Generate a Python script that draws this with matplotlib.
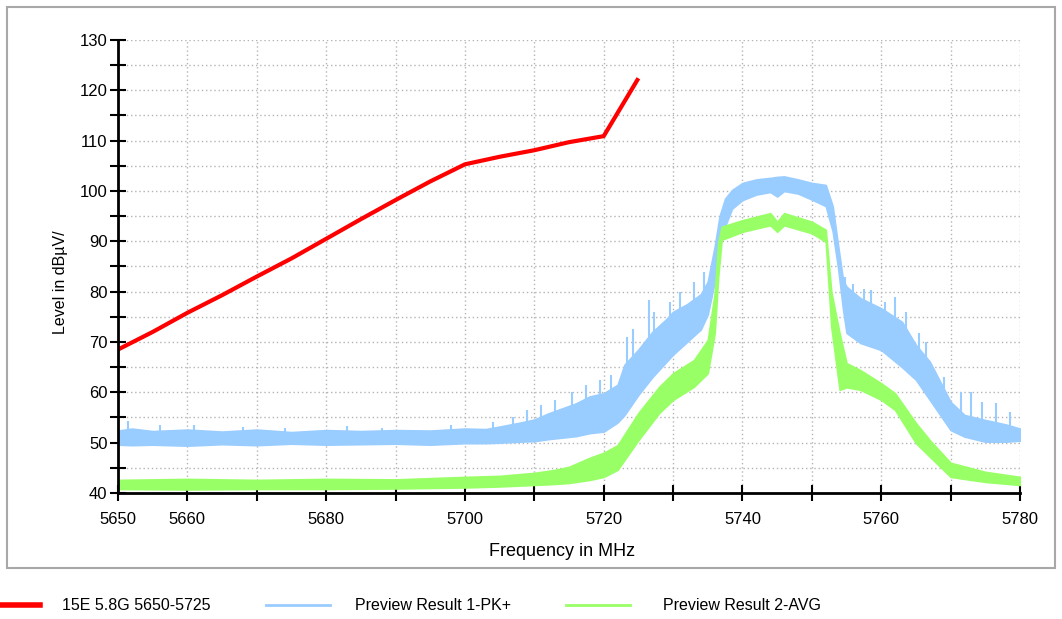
import numpy as np
import matplotlib
matplotlib.use("Agg")
from matplotlib import pyplot as plt
from matplotlib.lines import Line2D
from matplotlib.patches import Rectangle

plt.rcParams['font.family'] = ['Liberation Sans', 'DejaVu Sans']

# limit line (red)
limit_f = [5650, 5655, 5660, 5665, 5670, 5675, 5680, 5685, 5690, 5695, 5700,
           5705, 5710, 5715, 5720, 5725]
limit_db = [68.5, 72.0, 75.8, 79.3, 83.0, 86.6, 90.5, 94.4, 98.2, 101.9, 105.3,
            106.8, 108.1, 109.7, 110.9, 122.4]

# Preview Result 1-PK+ (noise band: lower / upper envelope)
pk_f = [5650, 5652, 5655, 5660, 5665, 5670, 5675, 5680, 5685, 5690, 5695, 5700,
        5703, 5705, 5708, 5710, 5712, 5714, 5716, 5718, 5720, 5722, 5723, 5724,
        5725, 5727, 5729, 5730, 5732, 5734, 5735, 5736, 5736.7, 5737.5, 5738.5,
        5740, 5742, 5744, 5745, 5746, 5748, 5750, 5752, 5753, 5753.8, 5754.5,
        5755, 5757, 5760, 5763, 5765, 5767, 5770, 5772, 5775, 5778, 5780]
pk_lo = [49.6, 49.5, 49.6, 49.4, 49.7, 49.5, 49.8, 49.6, 49.7, 49.8, 49.6, 49.9,
         49.9, 50.0, 50.2, 50.3, 50.7, 51.0, 51.3, 51.9, 52.2, 54.0, 55.5, 57.5,
         59.5, 63.0, 66.0, 67.5, 70.0, 72.5, 75.5, 82.0, 89.0, 93.0, 96.5,
         98.2, 99.3, 99.8, 98.9, 100.0, 99.5, 98.3, 97.0, 92.0, 84.5, 76.4,
         71.8, 69.8, 68.4, 65.0, 62.5, 58.5, 52.5, 51.2, 50.2, 50.2, 50.4]
pk_hi = [52.4, 52.8, 52.3, 52.6, 52.2, 52.6, 52.1, 52.5, 52.3, 52.5, 52.4, 52.8,
         52.7, 53.2, 54.0, 54.6, 55.8, 56.8, 57.8, 59.2, 59.8, 61.5, 65.5, 67.0,
         68.5, 72.0, 74.5, 76.0, 77.5, 79.5, 82.0, 89.0, 95.0, 98.5, 100.2,
         101.6, 102.3, 102.6, 102.8, 102.9, 102.3, 101.6, 101.2, 97.0, 89.0, 82.3,
         81.0, 78.7, 76.7, 74.0, 69.4, 66.1, 58.1, 55.5, 54.5, 53.6, 52.8]

# PK+ single-sweep spikes above the band
spike_f = [5651.5, 5656, 5661, 5668, 5674, 5683, 5688, 5698, 5704, 5707, 5709,
           5711, 5713, 5715.5, 5717.5, 5719.5, 5721, 5723.3, 5724.2, 5726.5,
           5727.2, 5729.5, 5731, 5733, 5734.5, 5754.8, 5756, 5757.5, 5758.5,
           5760.5, 5762, 5763.5, 5765.5, 5766.5, 5769, 5771.5, 5773, 5774.5,
           5776.5, 5778.5]
spike_lo = [51, 51, 51, 51, 51, 51, 51, 51, 51, 52, 52, 53, 53, 55, 56, 57, 58,
            62, 64, 68, 69, 72, 74, 76, 78, 78, 77, 76, 74, 72, 71, 68, 64, 62,
            58, 54, 53, 52, 52, 51]
spike_hi = [54.4, 53.6, 53.5, 53.2, 53.0, 53.3, 53.0, 53.5, 54.2, 55.0, 56.5,
            57.5, 58.5, 60.0, 61.5, 62.5, 63.5, 71.0, 72.5, 78.3, 76.0, 78.0,
            80.0, 82.0, 84.0, 83.0, 81.5, 80.5, 80.3, 78.0, 79.0, 76.0, 71.8,
            70.0, 63.0, 60.0, 60.1, 58.0, 57.9, 56.0]

# Preview Result 2-AVG
av_f = [5650, 5660, 5670, 5680, 5690, 5700, 5705, 5710, 5713, 5715, 5718, 5720,
        5722, 5725, 5728, 5730, 5733, 5735, 5736, 5736.5, 5737, 5740, 5744, 5745,
        5746, 5750, 5752, 5752.8, 5754, 5755, 5757, 5760, 5762, 5765, 5767, 5770,
        5775, 5780]
av_lo = [40.8, 40.7, 40.8, 40.8, 40.9, 41.1, 41.3, 41.6, 41.8, 42.0, 42.6, 43.2,
         44.6, 50.5, 55.9, 58.5, 61.1, 63.8, 71.8, 82.9, 90.3, 91.9, 93.2, 91.9,
         93.2, 91.6, 89.9, 73.0, 60.5, 61.0, 60.5, 58.5, 56.5, 49.9, 47.2, 43.2,
         42.2, 41.6]
av_hi = [42.6, 42.8, 42.6, 42.8, 42.7, 43.2, 43.4, 44.0, 44.6, 45.2, 47.0, 48.0,
         49.5, 55.9, 61.1, 63.8, 66.4, 70.4, 79.7, 89.7, 92.9, 94.2, 95.6, 93.9,
         95.6, 93.9, 92.3, 80.0, 71.7, 65.8, 64.4, 61.8, 59.8, 53.9, 50.5, 46.0,
         44.2, 43.2]

x_ticks = list(range(5650, 5781, 10))
x_labels = [str(v) if v in (5650, 5660) or v % 20 == 0 else '' for v in x_ticks]

RED = '#ff0000'
BLUE = '#99ccff'
GREEN = '#99ff66'

fig = plt.figure(figsize=(10.62, 6.19), dpi=100)
ax = fig.add_axes([118 / 1062, 1 - 493 / 619, (1020 - 118) / 1062, (493 - 40) / 619])

ax.fill_between(pk_f, pk_lo, pk_hi, color=BLUE, lw=1.2, edgecolor=BLUE, zorder=2)
ax.vlines(spike_f, spike_lo, spike_hi, color=BLUE, lw=1.5, zorder=2)
ax.fill_between(av_f, av_lo, av_hi, color=GREEN, lw=1.2, edgecolor=GREEN, zorder=3)
ax.plot(limit_f, limit_db, color=RED, lw=3, zorder=4, solid_capstyle='butt')

ax.set_xlim(5650, 5780)
ax.set_ylim(40, 130)
ax.set_xticks(x_ticks)
ax.set_xticklabels(x_labels)
ax.set_yticks(range(40, 131, 10))
ax.set_yticks(range(45, 130, 10), minor=True)

ax.grid(True, which='major', axis='x', color='#b4b4b4', ls=(0, (1, 2)), lw=1)
ax.grid(True, which='both', axis='y', color='#b4b4b4', ls=(0, (1, 2)), lw=1)
ax.set_axisbelow(True)

for s in ('top', 'right'):
    ax.spines[s].set_visible(False)
for s in ('left', 'bottom'):
    ax.spines[s].set_linewidth(2)
    ax.spines[s].set_zorder(5)

ax.tick_params(which='both', direction='inout', length=11, width=1.5,
               labelsize=12, colors='black')
ax.tick_params(axis='x', pad=8)
ax.tick_params(axis='y', pad=2)

fig.text(60 / 1062, 1 - 282 / 619, 'Level in dBµV/', rotation=90,
         ha='center', va='center', fontsize=11.5)
fig.text(562 / 1062, 1 - 552 / 619, 'Frequency in MHz', ha='center',
         va='center', fontsize=13)

# outer frame
fig.add_artist(Rectangle((7 / 1062, 1 - 568 / 619), 1048 / 1062, 561 / 619,
                         transform=fig.transFigure, fill=False,
                         edgecolor='#a8a8a8', lw=1.5))

# legend row below the frame
leg_y = 1 - 605 / 619
leg_items = [(RED, 4, 0, 40, 62, '15E 5.8G 5650-5725'),
             (BLUE, 2, 266, 330, 355, 'Preview Result 1-PK+'),
             (GREEN, 2, 566, 630, 663, 'Preview Result 2-AVG')]
for col, lw, x0, x1, xt, txt in leg_items:
    fig.add_artist(Line2D([x0 / 1062, x1 / 1062], [leg_y, leg_y], color=col,
                          lw=lw, transform=fig.transFigure))
    fig.text(xt / 1062, leg_y, txt, ha='left', va='center', fontsize=11.5)

fig.savefig('out.png', dpi=100)
